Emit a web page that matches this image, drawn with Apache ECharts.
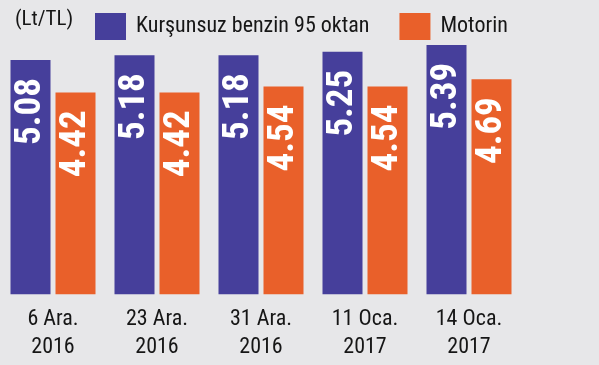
<!DOCTYPE html>
<html>
<head>
<meta charset="utf-8">
<script src="https://cdn.jsdelivr.net/npm/echarts@6/dist/echarts.min.js"></script>
<style>
html,body{margin:0;padding:0;background:#e7e7e9;}
#c{width:599px;height:365px;}
</style>
</head>
<body>
<div id="c"></div>
<script>
const categories = ['6 Ara.\n2016', '23 Ara.\n2016', '31 Ara.\n2016', '11 Oca.\n2017', '14 Oca.\n2017'];
const benzin = [5.08, 5.18, 5.18, 5.25, 5.39];
const motorin = [4.42, 4.42, 4.54, 4.54, 4.69];
const seriesNames = ['Kurşunsuz benzin 95 oktan', 'Motorin'];
const unitLabel = '(Lt/TL)';

const FONT = '"Roboto Condensed", sans-serif';
const chart = echarts.init(document.getElementById('c'), null, {renderer: 'canvas'});
const valLabel = {
  show: true,
  position: 'insideTop',
  distance: 18,
  rotate: 90,
  align: 'right',
  verticalAlign: 'middle',
  color: '#ffffff',
  fontFamily: FONT,
  fontWeight: 'bold',
  fontSize: 37,
  formatter: p => p.value.toFixed(2)
};
chart.setOption({
  backgroundColor: '#e7e7e9',
  animation: false,
  graphic: [{
    type: 'text', left: 15, top: 9,
    style: {text: unitLabel, font: '21px ' + FONT, fill: '#161616'}
  }],
  legend: {
    left: 90, top: 8,
    itemWidth: 31, itemHeight: 27, itemGap: 30,
    icon: 'rect',
    textStyle: {fontFamily: FONT, fontSize: 22, color: '#161616', padding: [0, 0, 0, 5]},
    data: seriesNames
  },
  grid: {left: 1, right: 78, top: 15, bottom: 70.7, containLabel: false},
  xAxis: {
    type: 'category', data: categories,
    axisLine: {show: false}, axisTick: {show: false},
    axisLabel: {margin: 11, fontFamily: FONT, fontSize: 22, lineHeight: 28, color: '#161616'}
  },
  yAxis: {type: 'value', min: 0.3, max: 6.0, show: false, splitLine: {show: false}},
  series: [
    {name: seriesNames[0], type: 'bar', data: benzin, barWidth: 40, barGap: '12.5%',
     itemStyle: {color: '#463f9b'}, label: valLabel},
    {name: seriesNames[1], type: 'bar', data: motorin, barWidth: 40,
     itemStyle: {color: '#e9602a'}, label: valLabel}
  ]
});
</script>
</body>
</html>
